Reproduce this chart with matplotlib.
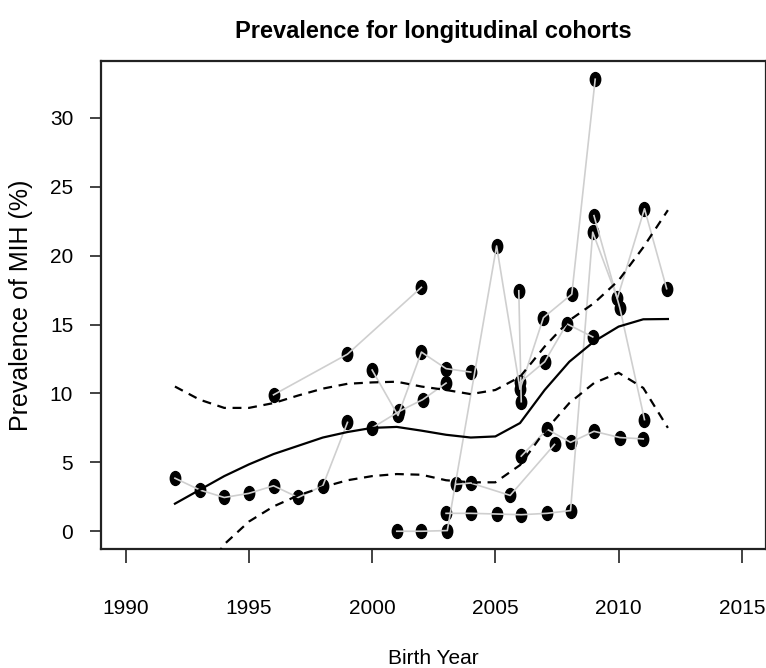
import numpy as np
import matplotlib
matplotlib.use("Agg")
import matplotlib.pyplot as plt
from matplotlib.path import Path

# fitted curve and confidence band, one value per birth year
fit_years = list(range(1992, 2013))
fit_mid = [2.0, 3.0, 4.0, 4.85, 5.6, 6.2, 6.8, 7.2, 7.5, 7.57, 7.3,
           7.0, 6.8, 6.88, 7.85, 10.25, 12.3, 13.77, 14.85, 15.38, 15.4]
fit_upper = [10.5, 9.55, 8.95, 8.95, 9.3, 9.85, 10.35, 10.7, 10.8, 10.85, 10.5,
             10.25, 9.95, 10.25, 11.2, 13.4, 15.3, 16.55, 18.2, 20.6, 23.3]
fit_lower = [-6.5, -3.5, -0.95, 0.7, 1.8, 2.6, 3.2, 3.7, 4.0, 4.15, 4.1,
             3.7, 3.55, 3.55, 4.8, 7.25, 9.3, 10.75, 11.5, 10.4, 7.5]

# longitudinal cohorts (birth year, prevalence %)
cohorts = [
    ([1992, 1993, 1994, 1995, 1996, 1997, 1998, 1999],
     [3.85, 3.0, 2.45, 2.75, 3.3, 2.45, 3.3, 7.9]),
    ([1996, 1999, 2002], [9.9, 12.85, 17.7]),
    ([2000, 2001.05, 2002, 2003, 2004], [11.7, 8.4, 13.0, 11.8, 11.55]),
    ([2000, 2001.1, 2002.05, 2003], [7.5, 8.7, 9.55, 10.75]),
    ([2001, 2002, 2003.05, 2005.05, 2006, 2006.95, 2008.1, 2009.05],
     [0.0, 0.0, 0.05, 20.7, 10.3, 15.5, 17.2, 32.8]),
    ([2005.95, 2006.05], [17.45, 9.4]),
    ([2006, 2007, 2007.9, 2008.95], [10.8, 12.3, 15.05, 14.1]),
    ([2003, 2004, 2005.05, 2006.05, 2007.1, 2008.05, 2008.95, 2009.95, 2011.05, 2011.95],
     [1.3, 1.3, 1.25, 1.2, 1.3, 1.5, 21.7, 16.9, 23.4, 17.6]),
    ([2009, 2010.05, 2011.05], [22.9, 16.2, 8.1]),
    ([2003.4, 2004, 2005.6, 2007.4], [3.4, 3.5, 2.6, 6.3]),
    ([2006.05, 2007.1, 2008.05, 2009, 2010.05, 2011], [5.45, 7.4, 6.45, 7.25, 6.8, 6.7]),
]

x_ticks = [1990, 1995, 2000, 2005, 2010, 2015]
y_ticks = [0, 5, 10, 15, 20, 25, 30]

sans = ["Liberation Sans", "DejaVu Sans"]

circ = Path.unit_circle()
dot = Path(circ.vertices * np.array([0.75, 1.0]), circ.codes)

fig = plt.figure(figsize=(7.66, 6.68), dpi=100)
ax = fig.add_axes([101 / 766, 1 - 549.3 / 668, 665.5 / 766, 488 / 668])

for xs, ys in cohorts:
    ax.plot(xs, ys, ls="none", marker=dot, ms=10, color="black", zorder=2)
    ax.plot(xs, ys, color="#cfcfcf", lw=1.2, zorder=3)

ax.plot(fit_years, fit_mid, color="black", lw=1.6, zorder=4)
ax.plot(fit_years, fit_upper, color="black", lw=1.6, ls=(0, (4, 3)), zorder=4)
ax.plot(fit_years, fit_lower, color="black", lw=1.6, ls=(0, (4, 3)), zorder=4)

ax.set_xlim(1989, 2016)
ax.set_ylim(-1.31, 34.1)
ax.set_xticks(x_ticks)
ax.set_yticks(y_ticks)
ax.set_xticklabels([str(t) for t in x_ticks], family=sans, fontsize=15)
ax.set_yticklabels([str(t) for t in y_ticks], family=sans, fontsize=15)
ax.tick_params(axis="x", length=10, width=1.2, pad=26, color="#222222")
ax.tick_params(axis="y", length=8, width=1.2, pad=12, color="#222222")
for sp in ax.spines.values():
    sp.set_linewidth(1.6)
    sp.set_color("#222222")

ax.set_xlabel("Birth Year", family=sans, fontsize=15, labelpad=22)
ax.set_ylabel("Prevalence of MIH (%)", family=sans, fontsize=18, labelpad=12)
ax.set_title("Prevalence for longitudinal cohorts", family=sans, fontsize=17,
             fontweight="bold", pad=17)

fig.savefig("out.png", dpi=100)
